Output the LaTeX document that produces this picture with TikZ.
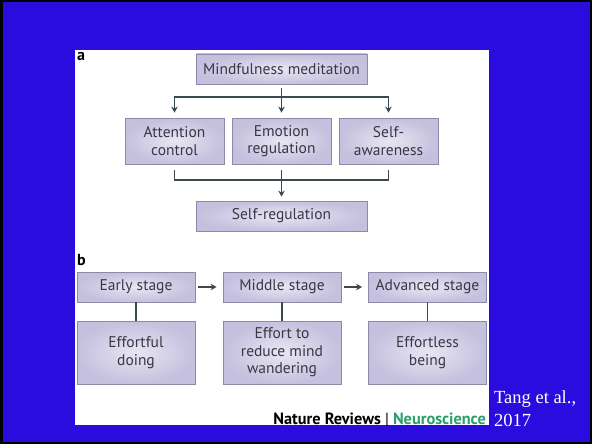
\documentclass[tikz,border=0pt]{standalone}
\usepackage{fontspec}
\setmainfont{PT Sans}
\newfontfamily\citefont{Liberation Serif}
\usetikzlibrary{arrows.meta}

\definecolor{slideblue}{RGB}{42,12,222}
\definecolor{boxfill}{RGB}{196,192,222}
\definecolor{boxlight}{RGB}{232,230,242}
\definecolor{boxline}{RGB}{140,138,168}
\definecolor{linkgray}{RGB}{60,72,80}
\definecolor{boxtext}{RGB}{55,55,70}
\definecolor{natgreen}{RGB}{40,160,105}

\tikzset{
  stagebox/.style={draw=boxline, line width=0.8pt, inner color=boxlight, outer color=boxfill,
    text=boxtext, align=center, font=\fontsize{15.5}{17.5}\selectfont, inner sep=0pt},
  link/.style={draw=linkgray, line width=1.8pt},
  arr/.style={link, -{Stealth[length=6pt,width=6.5pt]}},
  panel/.style={font=\bfseries\fontsize{16}{16}\selectfont, anchor=north west, inner sep=0pt}
}

\begin{document}
\begin{tikzpicture}[x=1pt, y=-1pt]

  % Fond de la diapositive
  \fill[black] (0,0) rectangle (592,444);
  \fill[slideblue] (2.5,2.5) rectangle (589.5,441.5);
  \fill[white] (75,50) rectangle (489,425);
  \useasboundingbox (0,0) rectangle (592,444);

  % Partie a
  \node[panel] (lbla) at (77,52) {a};
  \node[stagebox, minimum width=171pt, minimum height=30pt] (mind) at (281.5,69) {Mindfulness meditation};
  \node[stagebox, minimum width=99pt, minimum height=46pt] (att) at (174.5,141) {Attention\\control};
  \node[stagebox, minimum width=99pt, minimum height=46pt] (emo) at (281.5,141) {Emotion\\regulation};
  \node[stagebox, minimum width=99pt, minimum height=46pt] (aware) at (388.5,141) {Self-\\awareness};
  \node[stagebox, minimum width=171pt, minimum height=30pt] (selfreg) at (281.5,216) {Self-regulation};

  \coordinate (split) at (281.5,97);
  \coordinate (merge) at (281.5,180);

  % Fleches vers les trois composantes
  \draw[arr, shorten <=4pt, shorten >=5pt] (mind) -- (emo);
  \draw[arr, shorten >=5pt] (split) -| (att);
  \draw[arr, shorten >=5pt] (split) -| (aware);

  % Regroupement vers l'autoregulation
  \draw[link, shorten <=6pt] (att) |- (merge);
  \draw[link, shorten <=6pt] (aware) |- (merge);
  \draw[arr, shorten <=6pt, shorten >=4pt] (emo) -- (selfreg);

  % Partie b
  \node[panel] (lblb) at (77,254) {b};
  \node[stagebox, minimum width=118pt, minimum height=30pt] (early) at (136,287) {Early stage};
  \node[stagebox, minimum width=118pt, minimum height=30pt] (middle) at (282,287) {Middle stage};
  \node[stagebox, minimum width=118pt, minimum height=30pt] (adv) at (427.5,287) {Advanced stage};
  \node[stagebox, minimum width=118pt, minimum height=63pt] (doing) at (136,352.5) {Effortful\\doing};
  \node[stagebox, minimum width=118pt, minimum height=63pt] (wander) at (282,352.5) {Effort to\\reduce mind\\wandering};
  \node[stagebox, minimum width=118pt, minimum height=63pt] (being) at (427.5,352.5) {Effortless\\being};

  \draw[arr, shorten <=3pt, shorten >=6pt] (early) -- (middle);
  \draw[arr, shorten <=3pt, shorten >=6pt] (middle) -- (adv);
  \draw[link] (early) -- (doing);
  \draw[link] (middle) -- (wander);
  \draw[link] (adv) -- (being);

  % Source
  \node[anchor=east, inner sep=0pt, font=\bfseries\fontsize{16.3}{17}\selectfont] (journal) at (486,420)
    {Nature Reviews {\mdseries|} \textcolor{natgreen}{Neuroscience}};
  \node[anchor=north west, inner sep=0pt, align=left, text=white,
    font=\citefont\fontsize{18.5}{23}\selectfont] (cite) at (494,390) {Tang et al.,\\2017};

\end{tikzpicture}
\end{document}
